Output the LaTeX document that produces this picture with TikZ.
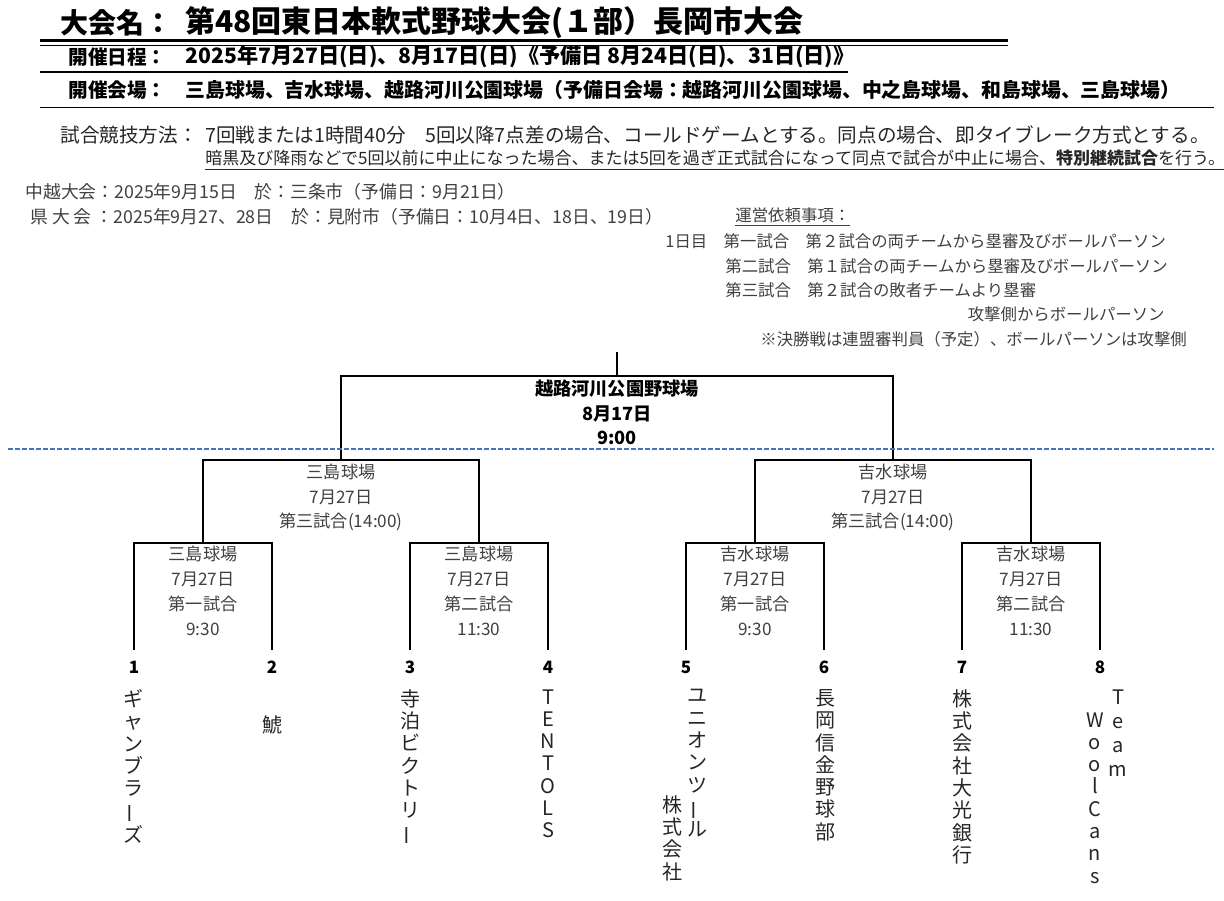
\documentclass[tikz,border=0pt]{standalone}
\usepackage{fontspec}
\setmainfont{Noto Sans CJK JP}
\usepackage{graphicx}
\usetikzlibrary{positioning}

\definecolor{dashblue}{RGB}{68,114,196}
\newcommand{\vbar}{\rotatebox[origin=c]{90}{ー}}

\tikzset{
  txt/.style={inner sep=0pt, anchor=west},
  titletxt/.style={txt, font=\bfseries\fontsize{14}{17}\selectfont},
  headtxt/.style={txt, font=\bfseries\fontsize{9.8}{12}\selectfont},
  ruletxt/.style={txt, text=black!85, font=\fontsize{9.8}{12}\selectfont},
  infotxt/.style={txt, text=black!75, font=\fontsize{8.2}{10}\selectfont},
  venue/.style={inner sep=0pt, align=center, text=black!75,
    font=\fontsize{8.6}{12.5}\selectfont},
  finalvenue/.style={venue, text=black, font=\bfseries\fontsize{9.1}{12.25}\selectfont},
  bracket/.style={line width=1pt},
  seed/.style={inner sep=0pt, font=\bfseries\fontsize{8.5}{10}\selectfont},
  team/.style={inner sep=0pt, anchor=north, align=center, text=black!85,
    font=\fontsize{10}{11.15}\selectfont},
}

\begin{document}
\begin{tikzpicture}[x=0.5pt, y=-0.5pt]
    \useasboundingbox (0,0) rectangle (1224,900);

    % Header
    \node[titletxt] (ttl) at (60,23) {大会名：};
    \node[titletxt, font=\bfseries\fontsize{15}{17}\selectfont] (ttlname) at (185,23) {第48回東日本軟式野球大会(１部）長岡市大会};
    \draw[line width=1.1pt] (40,40.5) -- (1008,40.5);
    \draw[line width=0.8pt] (40,45.5) -- (1008,45.5);

    \node[headtxt] (datelbl) at (68,57) {開催日程：};
    \node[headtxt, font=\bfseries\fontsize{10.6}{12}\selectfont] (date) at (185,57) {2025年7月27日(日)、8月17日(日)《予備日 8月24日(日)、31日(日)》};
    \draw[line width=0.9pt] (40,72) -- (848,72);

    \node[headtxt] (sitelbl) at (68,90) {開催会場：};
    \node[headtxt, font=\bfseries\fontsize{9.95}{12}\selectfont] (site) at (185,90) {三島球場、吉水球場、越路河川公園球場（予備日会場：越路河川公園球場、中之島球場、和島球場、三島球場）};
    \draw[line width=0.9pt] (40,107.5) -- (1214,107.5);

    % Rules
    \node[ruletxt] (rulelbl) at (60,135) {試合競技方法：};
    \node[ruletxt] (rule1) at (205,135) {7回戦または1時間40分　5回以降7点差の場合、コールドゲームとする。同点の場合、即タイブレーク方式とする。};
    \node[ruletxt, font=\fontsize{8.5}{10}\selectfont] (rule2) at (205,160)
      {\underline{暗黒及び降雨などで5回以前に中止になった場合、または5回を過ぎ正式試合になって同点で試合が中止に場合、\textbf{特別継続試合}を行う。}};

    % Later rounds
    \node[infotxt, font=\fontsize{8.9}{10}\selectfont] (chuetsu) at (25,192) {中越大会：2025年9月15日　於：三条市（予備日：9月21日）};
    \node[infotxt, font=\fontsize{8.9}{10}\selectfont] (ken) at (30,217) {県 大 会 ：2025年9月27、28日　於：見附市（予備日：10月4日、18日、19日）};

    % Duties
    \node[infotxt] (duty) at (735,217) {\underline{運営依頼事項：}};
    \node[infotxt] (duty1) at (665,241) {1日目　第一試合　第２試合の両チームから塁審及びボールパーソン};
    \node[infotxt] (duty2) at (725,266) {第二試合　第１試合の両チームから塁審及びボールパーソン};
    \node[infotxt] (duty3) at (725,290) {第三試合　第２試合の敗者チームより塁審};
    \node[infotxt, anchor=east] (duty4) at (1165,314) {攻撃側からボールパーソン};
    \node[infotxt] (duty5) at (760,339) {※決勝戦は連盟審判員（予定）、ボールパーソンは攻撃側};

    % Bracket
    \coordinate (champ) at (617,352);
    \coordinate (fin) at (617,376);
    \coordinate (sf1) at (341,460);
    \coordinate (sf2) at (893,460);
    \coordinate (qf1) at (203,543);
    \coordinate (qf2) at (479,543);
    \coordinate (qf3) at (755,543);
    \coordinate (qf4) at (1031,543);

    \foreach \i/\x in {1/134,2/272,3/410,4/548,5/686,6/824,7/962,8/1100}{
        \coordinate (e\i) at (\x,650);
        \node[seed] (n\i) at (\x,667) {\i};
    }

    \draw[bracket] (e1) |- (qf1) -| (e2);
    \draw[bracket] (e3) |- (qf2) -| (e4);
    \draw[bracket] (e5) |- (qf3) -| (e6);
    \draw[bracket] (e7) |- (qf4) -| (e8);
    \draw[bracket] (qf1) |- (sf1) -| (qf2);
    \draw[bracket] (qf3) |- (sf2) -| (qf4);
    \draw[bracket] (sf1) |- (fin) -| (sf2);
    \draw[bracket] (fin) -- (champ);

    \draw[dashblue, line width=0.7pt, dash pattern=on 2.5pt off 1pt] (8,449) -- (1214,449);

    % Venue labels
    \node[finalvenue, below=2pt of fin] (vfin) {越路河川公園野球場\\8月17日\\9:00};
    \node[venue, below=2pt of sf1, font=\fontsize{8.6}{12.25}\selectfont] (vsf1) {三島球場\\7月27日\\第三試合(14:00)};
    \node[venue, below=2pt of sf2, font=\fontsize{8.6}{12.25}\selectfont] (vsf2) {吉水球場\\7月27日\\第三試合(14:00)};
    \node[venue, below=1.5pt of qf1] (vqf1) {三島球場\\7月27日\\第一試合\\9:30};
    \node[venue, below=1.5pt of qf2] (vqf2) {三島球場\\7月27日\\第二試合\\11:30};
    \node[venue, below=1.5pt of qf3] (vqf3) {吉水球場\\7月27日\\第一試合\\9:30};
    \node[venue, below=1.5pt of qf4] (vqf4) {吉水球場\\7月27日\\第二試合\\11:30};

    % Teams
    \node[team] (team1) at (133,689) {ギ\\ャ\\ン\\ブ\\ラ\\\vbar\\ズ};
    \node[team] (team2) at (272,715) {鯱};
    \node[team] (team3) at (410,689) {寺\\泊\\ビ\\ク\\ト\\リ\\\vbar};
    \node[team] (team4) at (548,689) {T\\E\\N\\T\\O\\L\\S};
    \node[team] (team5a) at (697,689) {ユ\\ニ\\オ\\ン\\ツ\\\vbar\\ル};
    \node[team] (team5b) at (672,795) {株\\式\\会\\社};
    \node[team] (team6) at (825,689) {長\\岡\\信\\金\\野\\球\\部};
    \node[team] (team7) at (962,689) {株\\式\\会\\社\\大\\光\\銀\\行};
    \node[team, font=\fontsize{10}{12}\selectfont] (team8a) at (1118,689) {T\\e\\a\\m};
    \node[team] (team8b) at (1095,712) {W\\o\\o\\l\\C\\a\\n\\s};
\end{tikzpicture}
\end{document}
